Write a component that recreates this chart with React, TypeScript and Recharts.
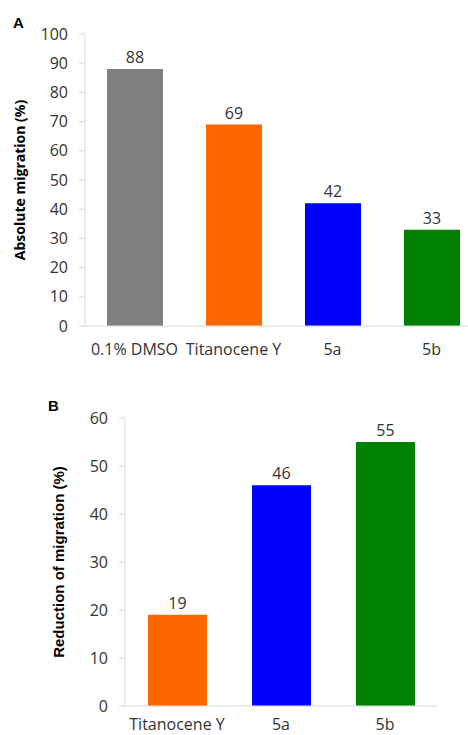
import { BarChart, Bar, XAxis, YAxis, Cell, LabelList } from "recharts";

// Panel A — absolute migration
const categoriesA = ["0.1% DMSO", "Titanocene Y", "5a", "5b"];
const valuesA = [88, 69, 42, 33];
const colorsA = ["#808080", "#FF6600", "#0000FF", "#008000"];
const ticksA = [0, 10, 20, 30, 40, 50, 60, 70, 80, 90, 100];

// Panel B — reduction of migration
const categoriesB = ["Titanocene Y", "5a", "5b"];
const valuesB = [19, 46, 55];
const colorsB = ["#FF6600", "#0000FF", "#008000"];
const ticksB = [0, 10, 20, 30, 40, 50, 60];

const FONT = "'Open Sans', sans-serif";
const ARIAL = "'Liberation Sans', Arial, sans-serif";
const TEXT = "#333333";
const AXIS = "#D9D9D9";

const dataA = categoriesA.map((name, i) => ({ name, value: valuesA[i] }));
const dataB = categoriesB.map((name, i) => ({ name, value: valuesB[i] }));

const tickStyle = { fontSize: 16, fontFamily: FONT, fill: TEXT };

export default function App() {
  return (
    <div
      style={{
        position: "absolute",
        left: 0,
        top: 0,
        width: 468,
        height: 735,
        overflow: "hidden",
        background: "#fff",
      }}
    >
      {/* Panel letters */}
      <div
        style={{
          position: "absolute",
          left: 13,
          top: 15,
          fontFamily: ARIAL,
          fontWeight: "bold",
          fontSize: 15,
          lineHeight: "15px",
          color: "#000",
        }}
      >
        A
      </div>
      <div
        style={{
          position: "absolute",
          left: 48,
          top: 398,
          fontFamily: ARIAL,
          fontWeight: "bold",
          fontSize: 15,
          lineHeight: "15px",
          color: "#000",
        }}
      >
        B
      </div>

      {/* Chart A */}
      <div style={{ position: "absolute", left: 0, top: 0 }}>
        <BarChart
          width={490}
          height={365}
          data={dataA}
          margin={{ top: 34, right: 9, left: 0, bottom: 0 }}
        >
          <XAxis
            dataKey="name"
            height={39}
            interval={0}
            tickLine={false}
            tickSize={0}
            tickMargin={18}
            axisLine={{ stroke: AXIS }}
            tick={tickStyle}
          />
          <YAxis
            width={85}
            domain={[0, 100]}
            ticks={ticksA}
            interval={0}
            tickSize={6}
            tickMargin={11}
            tickLine={{ stroke: AXIS }}
            axisLine={{ stroke: AXIS }}
            tick={tickStyle}
            label={{
              value: "Absolute migration (%)",
              angle: -90,
              position: "insideLeft",
              offset: 20,
              style: {
                textAnchor: "middle",
                fontSize: 14,
                fontWeight: "bold",
                fontFamily: FONT,
                fill: "#000",
              },
            }}
          />
          <Bar dataKey="value" barSize={56} isAnimationActive={false}>
            {dataA.map((_, i) => (
              <Cell key={`a-${i}`} fill={colorsA[i]} />
            ))}
            <LabelList
              dataKey="value"
              position="top"
              offset={6}
              style={{ fontSize: 16, fontFamily: FONT, fill: TEXT }}
            />
          </Bar>
        </BarChart>
      </div>

      {/* Chart B */}
      <div style={{ position: "absolute", left: 0, top: 370 }}>
        <BarChart
          width={468}
          height={365}
          data={dataB}
          margin={{ top: 48, right: 31, left: 0, bottom: 0 }}
        >
          <XAxis
            dataKey="name"
            height={29}
            interval={0}
            tickLine={false}
            tickSize={0}
            tickMargin={13}
            axisLine={{ stroke: AXIS }}
            tick={tickStyle}
          />
          <YAxis
            width={125}
            domain={[0, 60]}
            ticks={ticksB}
            interval={0}
            tickSize={6}
            tickMargin={11}
            tickLine={{ stroke: AXIS }}
            axisLine={{ stroke: AXIS }}
            tick={tickStyle}
            label={{
              value: "Reduction of migration (%)",
              angle: -90,
              position: "insideLeft",
              offset: 59,
              style: {
                textAnchor: "middle",
                fontSize: 15,
                fontWeight: "bold",
                fontFamily: ARIAL,
                fill: "#000",
              },
            }}
          />
          <Bar dataKey="value" barSize={59} isAnimationActive={false}>
            {dataB.map((_, i) => (
              <Cell key={`b-${i}`} fill={colorsB[i]} />
            ))}
            <LabelList
              dataKey="value"
              position="top"
              offset={6}
              style={{ fontSize: 16, fontFamily: FONT, fill: TEXT }}
            />
          </Bar>
        </BarChart>
      </div>
    </div>
  );
}
